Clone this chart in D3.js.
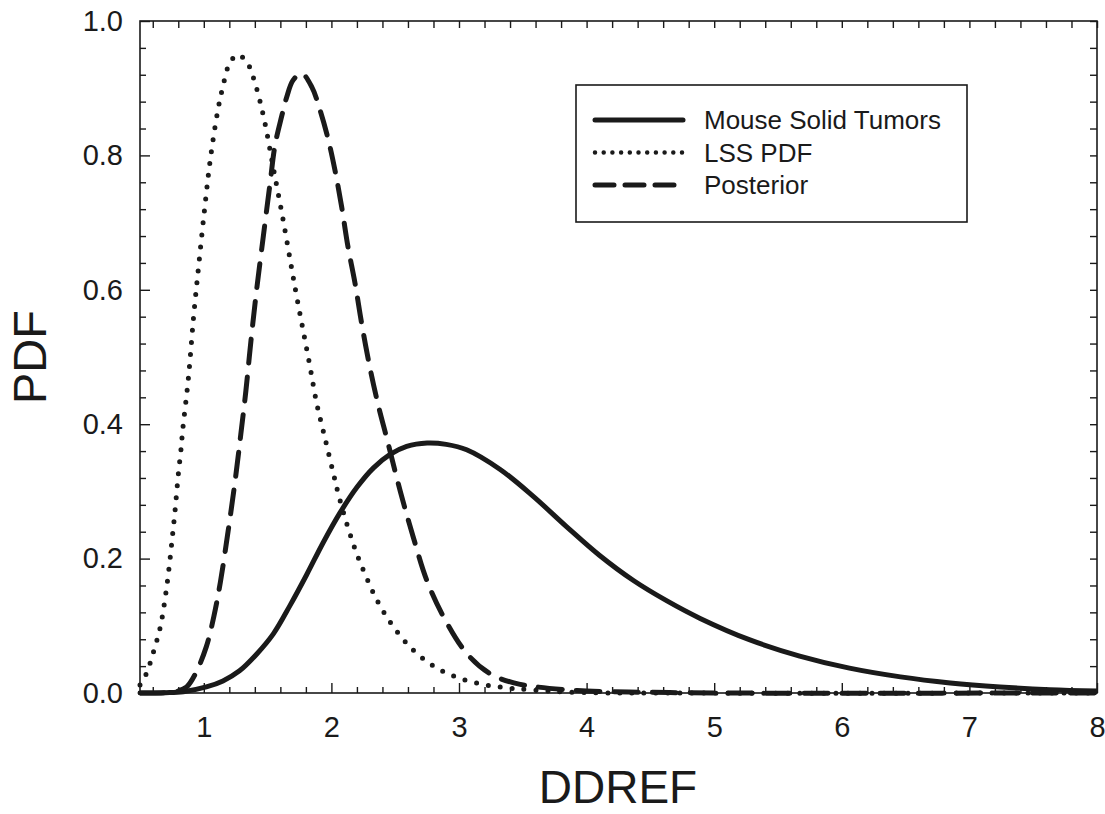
<!DOCTYPE html>
<html>
<head>
<meta charset="utf-8">
<script src="https://cdn.jsdelivr.net/npm/d3@7"></script>
<style>
  body { margin: 0; background: #fff; }
  text { font-family: "Liberation Sans", Arial, sans-serif; fill: #1a1a1a; }
</style>
</head>
<body>
<div id="chart"></div>
<script>
// values
var mouseX = [0.5, 0.7, 0.84, 1.02, 1.15, 1.28, 1.41, 1.545, 1.675, 1.806, 1.936, 2.067, 2.2, 2.33, 2.46, 2.59, 2.75, 2.9, 3.06, 3.32, 3.58, 3.84, 4.1, 4.37, 4.63, 4.89, 5.28, 5.67, 6.06, 6.46, 6.85, 7.24, 7.63, 8.0];
var mouseY = [0, 0.0005, 0.002, 0.009, 0.018, 0.033, 0.057, 0.088, 0.13, 0.176, 0.224, 0.268, 0.306, 0.335, 0.355, 0.367, 0.372, 0.370, 0.362, 0.333, 0.293, 0.248, 0.205, 0.167, 0.137, 0.111, 0.079, 0.055, 0.037, 0.024, 0.015, 0.009, 0.005, 0.003];

var lssX = [0.5, 0.55, 0.61, 0.66, 0.7, 0.73, 0.755, 0.775, 0.8, 0.82, 0.835, 0.88, 0.92, 0.962, 1.01, 1.053, 1.109, 1.148, 1.2, 1.265, 1.34, 1.41, 1.477, 1.545, 1.615, 1.68, 1.728, 1.78, 1.832, 1.885, 1.95, 2.015, 2.06, 2.14, 2.203, 2.277, 2.363, 2.477, 2.63, 2.81, 2.99, 3.18, 3.36, 3.54, 3.9, 4.5, 8.0];
var lssY = [0.012, 0.029, 0.064, 0.099, 0.145, 0.19, 0.235, 0.272, 0.325, 0.36, 0.392, 0.47, 0.56, 0.64, 0.727, 0.797, 0.866, 0.901, 0.936, 0.95, 0.938, 0.902, 0.85, 0.781, 0.711, 0.641, 0.59, 0.538, 0.486, 0.431, 0.379, 0.327, 0.292, 0.24, 0.205, 0.171, 0.136, 0.101, 0.066, 0.039, 0.023, 0.013, 0.008, 0.005, 0.001, 0, 0];

var postX = [0.5, 0.7, 0.8, 0.866, 0.93, 1.02, 1.08, 1.13, 1.19, 1.245, 1.29, 1.33, 1.37, 1.414, 1.466, 1.519, 1.558, 1.61, 1.65, 1.7, 1.767, 1.846, 1.91, 1.976, 2.03, 2.08, 2.13, 2.185, 2.237, 2.3, 2.37, 2.433, 2.54, 2.64, 2.747, 2.877, 3.06, 3.24, 3.43, 3.61, 4.0, 4.5, 5.0, 8.0];
var postY = [0, 0.0005, 0.003, 0.009, 0.027, 0.069, 0.115, 0.165, 0.24, 0.315, 0.385, 0.45, 0.525, 0.6, 0.679, 0.758, 0.815, 0.858, 0.887, 0.912, 0.922, 0.902, 0.868, 0.823, 0.776, 0.724, 0.664, 0.61, 0.55, 0.486, 0.426, 0.38, 0.3, 0.233, 0.168, 0.114, 0.059, 0.029, 0.015, 0.009, 0.003, 0.001, 0, 0];

var xMajor = [1, 2, 3, 4, 5, 6, 7, 8];
var yMajor = [0, 0.2, 0.4, 0.6, 0.8, 1.0];
var seriesNames = ["Mouse Solid Tumors", "LSS PDF", "Posterior"];

var W = 1105, H = 814;
var margin = { top: 21, right: 8, bottom: 121, left: 140 },
    width = W - margin.left - margin.right,
    height = H - margin.top - margin.bottom;

var svg = d3.select("#chart")
    .append("svg")
    .attr("width", W)
    .attr("height", H)
    .append("g")
    .attr("transform", "translate(" + margin.left + "," + margin.top + ")");

var x = d3.scaleLinear().domain([0.5, 8]).range([0, width]);
var y = d3.scaleLinear().domain([0, 1]).range([height, 0]);

var xAll = d3.range(6, 81, 2).map(function (d) { return d / 10; });
var xMinor = xAll.filter(function (d) { return xMajor.indexOf(d) < 0; });
var yAll = d3.range(0, 26).map(function (d) { return d * 0.04; });
var yMinor = yAll.filter(function (d) { return Math.abs(d / 0.2 - Math.round(d / 0.2)) > 1e-6; });

function styleAxis(g) {
    g.select(".domain").remove();
    g.selectAll("line").attr("stroke", "#1a1a1a").attr("stroke-width", 1.4);
}

// bottom axis: major + minor ticks pointing inward
var xAxis = svg.append("g")
    .attr("transform", "translate(0," + height + ")")
    .call(d3.axisBottom(x).tickValues(xMajor).tickSize(-10).tickFormat(d3.format("d")));
styleAxis(xAxis);
xAxis.selectAll("text")
    .attr("y", 44).attr("dy", null)
    .style("font-size", "29px");
svg.append("g")
    .attr("transform", "translate(0," + height + ")")
    .call(d3.axisBottom(x).tickValues(xMinor).tickSize(-6).tickFormat(""))
    .call(styleAxis);

// left axis
var yAxis = svg.append("g")
    .call(d3.axisLeft(y).tickValues(yMajor).tickSize(-10).tickPadding(17).tickFormat(d3.format(".1f")));
styleAxis(yAxis);
yAxis.selectAll("text").style("font-size", "29px");
svg.append("g")
    .call(d3.axisLeft(y).tickValues(yMinor).tickSize(-6).tickFormat(""))
    .call(styleAxis);

// top and right: short ticks only
svg.append("g")
    .call(d3.axisTop(x).tickValues(xAll).tickSize(-7).tickFormat(""))
    .call(styleAxis);
svg.append("g")
    .attr("transform", "translate(" + width + ",0)")
    .call(d3.axisRight(y).tickValues(yAll).tickSize(-7).tickFormat(""))
    .call(styleAxis);

// frame
svg.append("rect")
    .attr("width", width)
    .attr("height", height)
    .attr("fill", "none")
    .attr("stroke", "#1a1a1a")
    .attr("stroke-width", 1.6);

// axis titles
svg.append("text")
    .attr("x", 618 - margin.left)
    .attr("y", 803 - margin.top)
    .style("text-anchor", "middle")
    .style("font-size", "46px")
    .text("DDREF");
svg.append("text")
    .attr("transform", "translate(" + (46 - margin.left) + "," + (357 - margin.top) + ") rotate(-90)")
    .style("text-anchor", "middle")
    .style("font-size", "47px")
    .text("PDF");

// curves
var line = d3.line()
    .x(function (d) { return x(d[0]); })
    .y(function (d) { return y(Math.max(0, d[1])); })
    .curve(d3.curveCatmullRom.alpha(0.5));

var curves = [
    { pts: d3.zip(mouseX, mouseY), dash: null, cap: "butt" },
    { pts: d3.zip(lssX, lssY), dash: "0,12", cap: "round" },
    { pts: d3.zip(postX, postY), dash: "24,14", cap: "round" }
];

svg.selectAll(".curve")
    .data(curves)
    .enter()
    .append("path")
    .attr("class", "curve")
    .attr("d", function (d) { return line(d.pts); })
    .attr("fill", "none")
    .attr("stroke", "#1a1a1a")
    .attr("stroke-width", 5)
    .attr("stroke-linecap", function (d) { return d.cap; })
    .attr("stroke-dasharray", function (d) { return d.dash; });

// legend
var legend = svg.append("g")
    .attr("transform", "translate(" + (576 - margin.left) + "," + (85 - margin.top) + ")");
legend.append("rect")
    .attr("width", 391)
    .attr("height", 137)
    .attr("fill", "#fff")
    .attr("stroke", "#1a1a1a")
    .attr("stroke-width", 1.6);

var legDash = [null, "0,8.7", "19,11"];
var rows = legend.selectAll(".row")
    .data(seriesNames)
    .enter()
    .append("g")
    .attr("transform", function (d, i) { return "translate(0," + (35 + i * 32.5) + ")"; });
rows.append("line")
    .attr("x1", 19).attr("x2", 107)
    .attr("stroke", "#1a1a1a")
    .attr("stroke-width", function (d, i) { return i == 1 ? 4.5 : 5; })
    .attr("stroke-linecap", "round")
    .attr("stroke-dasharray", function (d, i) { return legDash[i]; });
rows.append("text")
    .attr("x", 128)
    .attr("dy", "0.36em")
    .style("font-size", "26px")
    .text(function (d) { return d; });
</script>
</body>
</html>
